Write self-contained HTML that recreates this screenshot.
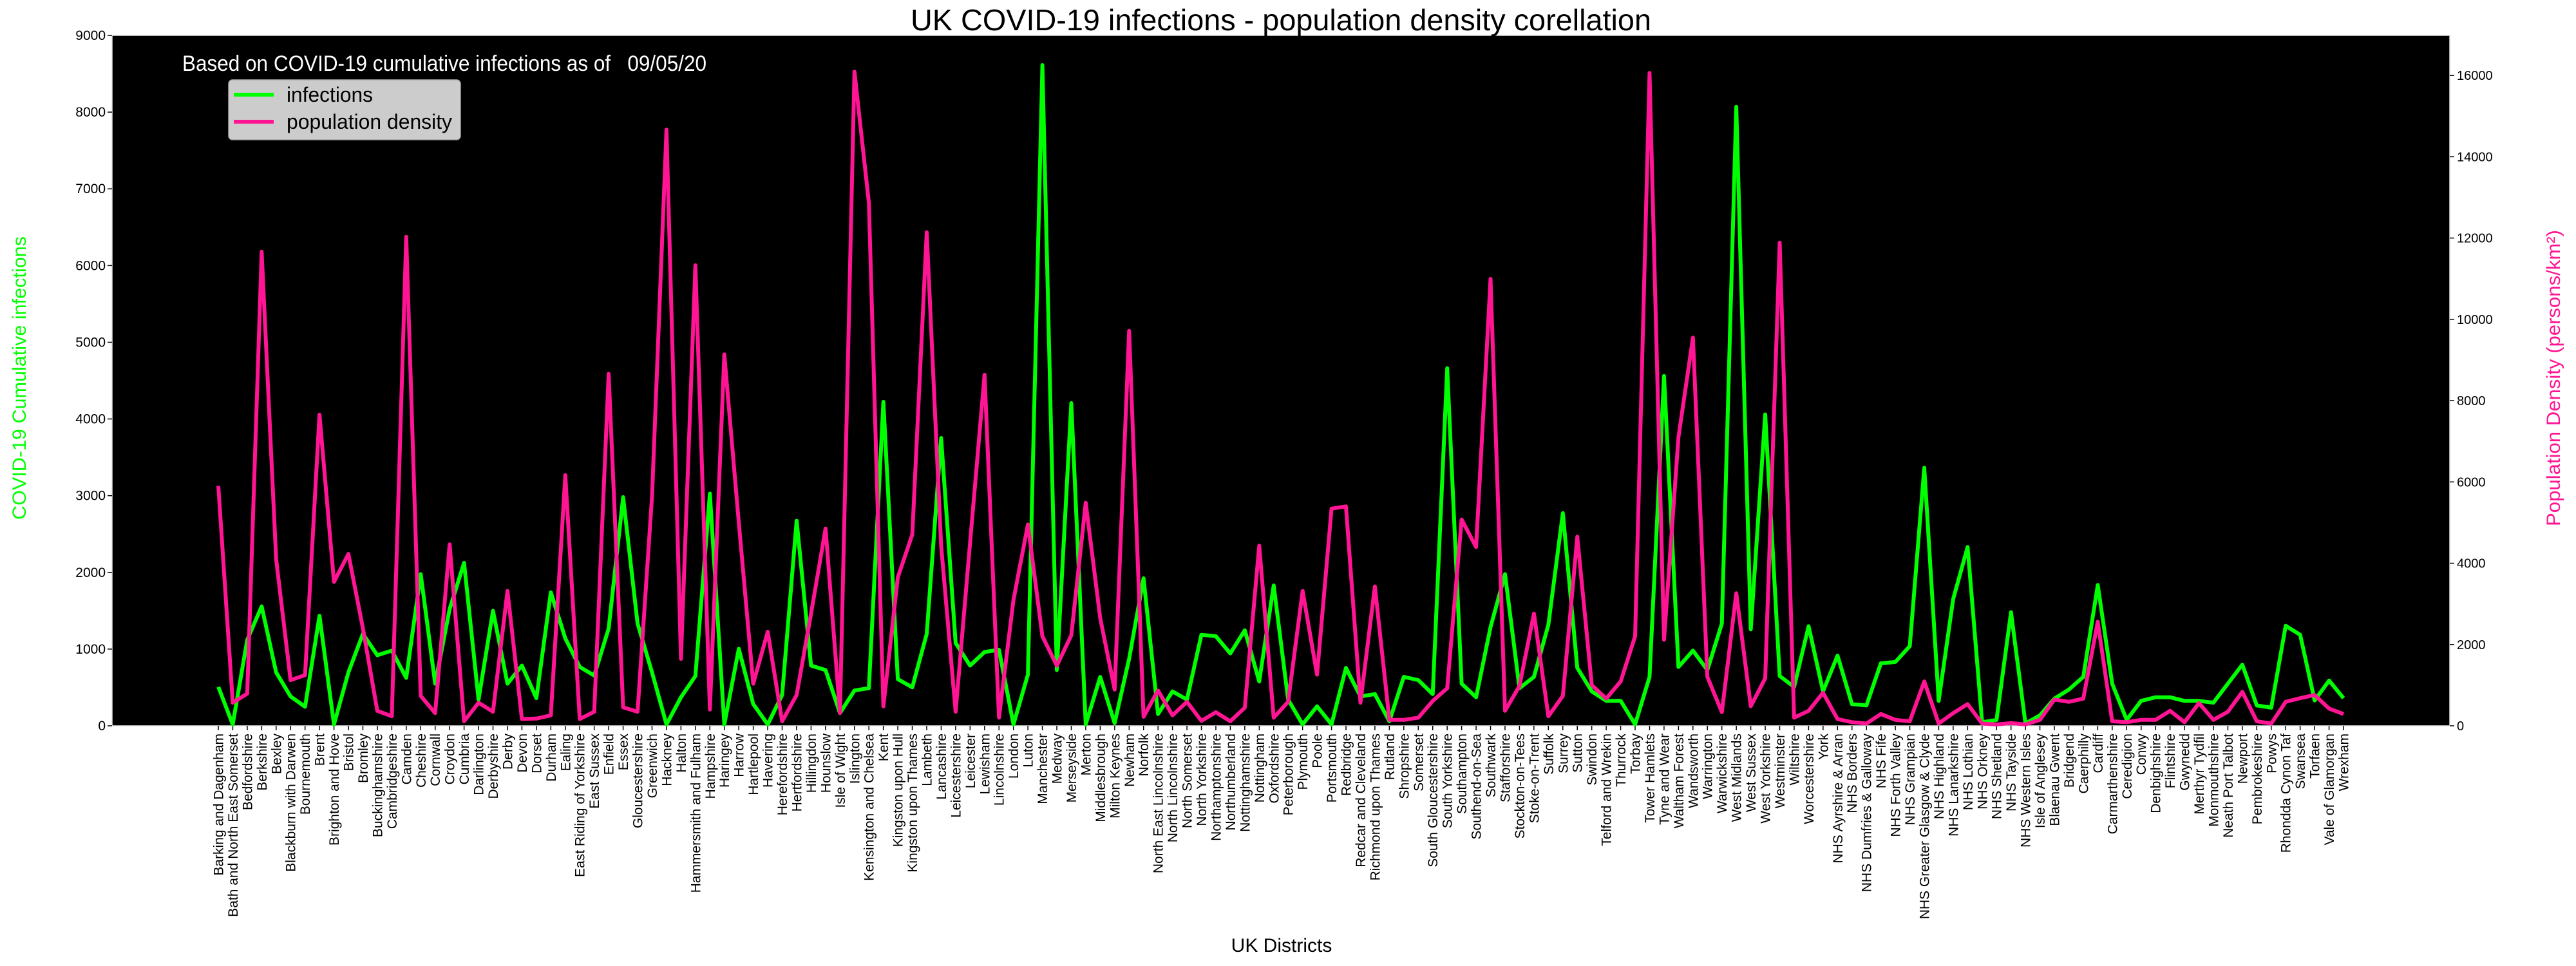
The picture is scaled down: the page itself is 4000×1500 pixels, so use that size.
<!DOCTYPE html>
<html>
<head>
<meta charset="utf-8">
<style>
html,body{margin:0;padding:0;background:#fff;}
svg{display:block;}
text{font-family:"Liberation Sans","DejaVu Sans",sans-serif;}
</style>
</head>
<body>
<svg id="chart" xmlns="http://www.w3.org/2000/svg" width="4000" height="1500" viewBox="0 0 4000 1500">
  <rect x="0" y="0" width="4000" height="1500" fill="#ffffff"/>
  <rect x="174" y="55" width="3630" height="1072" fill="#000000" stroke="#dddddd" stroke-width="1.5"/>
  <text x="1989" y="47" font-size="46" text-anchor="middle" textLength="1150" lengthAdjust="spacingAndGlyphs" fill="#000">UK COVID-19 infections - population density corellation</text>
  <g id="grid-left"></g>
  <g id="grid-right"></g>
  <g id="xaxis"></g>
  <g id="series"></g>
  <text x="283" y="110" font-size="34" fill="#ffffff" textLength="814" lengthAdjust="spacingAndGlyphs">Based on COVID-19 cumulative infections as of &#160;&#160;09/05/20</text>
  <g>
    <rect x="355" y="124" width="360" height="93" rx="6" fill="#cccccc" stroke="#aaaaaa" stroke-width="1.5"/>
    <line x1="363" y1="147" x2="425" y2="147" stroke="#00ff00" stroke-width="6"/>
    <text x="445" y="158" font-size="32" fill="#000" textLength="134" lengthAdjust="spacingAndGlyphs">infections</text>
    <line x1="363" y1="189" x2="425" y2="189" stroke="#ff1493" stroke-width="6"/>
    <text x="445" y="200" font-size="32" fill="#000" textLength="257" lengthAdjust="spacingAndGlyphs">population density</text>
  </g>
  <text transform="translate(40,587) rotate(-90)" font-size="30" text-anchor="middle" fill="#00ff00" textLength="440" lengthAdjust="spacingAndGlyphs">COVID-19 Cumulative infections</text>
  <text transform="translate(3975,587) rotate(-90)" font-size="30" text-anchor="middle" fill="#ff1493" textLength="460" lengthAdjust="spacingAndGlyphs">Population Density (persons/km²)</text>
  <text x="1990" y="1478" font-size="30" text-anchor="middle" fill="#000">UK Districts</text>
</svg>
<script>
const categories = ["Barking and Dagenham","Bath and North East Somerset","Bedfordshire","Berkshire","Bexley","Blackburn with Darwen","Bournemouth","Brent","Brighton and Hove","Bristol","Bromley","Buckinghamshire","Cambridgeshire","Camden","Cheshire","Cornwall","Croydon","Cumbria","Darlington","Derbyshire","Derby","Devon","Dorset","Durham","Ealing","East Riding of Yorkshire","East Sussex","Enfield","Essex","Gloucestershire","Greenwich","Hackney","Halton","Hammersmith and Fulham","Hampshire","Haringey","Harrow","Hartlepool","Havering","Herefordshire","Hertfordshire","Hillingdon","Hounslow","Isle of Wight","Islington","Kensington and Chelsea","Kent","Kingston upon Hull","Kingston upon Thames","Lambeth","Lancashire","Leicestershire","Leicester","Lewisham","Lincolnshire","London","Luton","Manchester","Medway","Merseyside","Merton","Middlesbrough","Milton Keynes","Newham","Norfolk","North East Lincolnshire","North Lincolnshire","North Somerset","North Yorkshire","Northamptonshire","Northumberland","Nottinghamshire","Nottingham","Oxfordshire","Peterborough","Plymouth","Poole","Portsmouth","Redbridge","Redcar and Cleveland","Richmond upon Thames","Rutland","Shropshire","Somerset","South Gloucestershire","South Yorkshire","Southampton","Southend-on-Sea","Southwark","Stafforshire","Stockton-on-Tees","Stoke-on-Trent","Suffolk","Surrey","Sutton","Swindon","Telford and Wrekin","Thurrock","Torbay","Tower Hamlets","Tyne and Wear","Waltham Forest","Wandsworth","Warrington","Warwickshire","West Midlands","West Sussex","West Yorkshire","Westminster","Wiltshire","Worcestershire","York","NHS Ayrshire & Arran","NHS Borders","NHS Dumfries & Galloway","NHS Fife","NHS Forth Valley","NHS Grampian","NHS Greater Glasgow & Clyde","NHS Highland","NHS Lanarkshire","NHS Lothian","NHS Orkney","NHS Shetland","NHS Tayside","NHS Western Isles","Isle of Anglesey","Blaenau Gwent","Bridgend","Caerphilly","Cardiff","Carmarthenshire","Ceredigion","Conwy","Denbighshire","Flintshire","Gwynedd","Merthyr Tydfil","Monmouthshire","Neath Port Talbot","Newport","Pembrokeshire","Powys","Rhondda Cynon Taf","Swansea","Torfaen","Vale of Glamorgan","Wrexham"];

const infections = [507,18,1120,1557,696,383,248,1434,18,696,1198,920,980,625,1977,549,1522,2124,342,1499,549,785,360,1740,1139,767,655,1268,2980,1333,696,18,372,649,
3027,18,1003,283,18,401,2673,785,726,165,460,490,4224,608,501,1198,3752,1080,785,962,991,18,667,8614,726,4207,18,637,35,873,1923,153,448,342,1186,1168,944,1245,578,1829,
342,18,254,18,755,383,413,59,637,596,413,4661,549,372,1286,1977,490,637,1316,2773,755,448,325,325,18,637,4561,767,980,726,1333,8071,1257,4059,649,507,1298,448,915,283,
265,814,832,1038,3363,325,1652,2331,47,77,1481,30,136,354,472,637,1835,549,77,325,372,372,325,325,301,549,797,265,236,1304,1186,330,590,360];

const density = [5900,568,790,11664,4096,1124,1247,7657,3539,4229,2400,367,234,12031,735,312,4463,111,568,345,3317,167,178,256,6166,167,345,8659,456,345,5654,14669,1647,11330,
400,9138,5000,1035,2315,111,757,2760,4853,312,16094,12866,479,3650,4708,12143,4430,345,4500,8637,200,3094,4953,2204,1480,2226,5487,2649,890,9717,222,868,256,590,122,334,111,445,4430,200,
590,3317,1258,5342,5398,568,3428,145,145,200,612,924,5075,4396,10996,367,979,2760,234,735,4652,1002,668,1091,2204,16061,2115,7101,9550,1202,334,3261,479,1169,11887,200,367,812,167,89,
56,290,145,111,1091,56,312,534,56,33,67,33,145,645,590,668,2560,111,89,145,145,367,89,557,145,345,835,111,56,590,679,757,423,290];

const leftTicks = [0,1000,2000,3000,4000,5000,6000,7000,8000,9000];
const rightTicks = [0,2000,4000,6000,8000,10000,12000,14000,16000];

const NS = "http://www.w3.org/2000/svg";
const PL = 174, PR = 3804, PT = 55, PB = 1127;
const LMAX = 9000, RMAX = 16985;
const n = categories.length;
function xPos(i){ const a = -0.05*(n-1), b = (n-1)*1.05; return PL + (i - a)/(b - a)*(PR-PL); }
function yLeft(v){ return PB - v/LMAX*(PB-PT); }
function yRight(v){ return PB - v/RMAX*(PB-PT); }
function mk(tag, attrs, parent){ const e=document.createElementNS(NS,tag); for(const k in attrs) e.setAttribute(k,attrs[k]); parent.appendChild(e); return e; }

const gl = document.getElementById('grid-left');
leftTicks.forEach(v=>{
  const y = yLeft(v);
  const t = mk('line',{x1:PL-7,x2:PL,y1:y,y2:y,stroke:'#000','stroke-width':1.5},gl);
  
  
  const tx = mk('text',{x:PL-10,y:y+7,'font-size':21,'text-anchor':'end',fill:'#000'},gl);
  tx.textContent = String(v);
  
  
});
const gr = document.getElementById('grid-right');
rightTicks.forEach(v=>{
  const y = yRight(v);
  const t = mk('line',{x1:PR,x2:PR+7,y1:y,y2:y,stroke:'#000','stroke-width':1.5},gr);
  
  
  const tx = mk('text',{x:PR+11,y:y+7,'font-size':20,fill:'#000'},gr);
  tx.textContent = String(v);
  
  
});
const gx = document.getElementById('xaxis');
categories.forEach((c,i)=>{
  const x = xPos(i);
  const t = mk('line',{x1:x,x2:x,y1:PB,y2:PB+7,stroke:'#000','stroke-width':1.5},gx);
  
  
  const tx = mk('text',{transform:`translate(${x+7.5},${PB+12}) rotate(-90)`,'font-size':21,'text-anchor':'end',fill:'#000'},gx);
  tx.textContent = c;
  
  
});
const gs = document.getElementById('series');
const pinkPts = density.map((v,i)=>xPos(i).toFixed(1)+','+yRight(v).toFixed(1)).join(' ');
const greenPts = infections.map((v,i)=>xPos(i).toFixed(1)+','+yLeft(v).toFixed(1)).join(' ');
const pg = mk('polyline',{points:greenPts,fill:'none',stroke:'#00ff00','stroke-width':6,'stroke-linejoin':'round'},gs);


const pp = mk('polyline',{points:pinkPts,fill:'none',stroke:'#ff1493','stroke-width':6,'stroke-linejoin':'round'},gs);


</script>
</body>
</html>
